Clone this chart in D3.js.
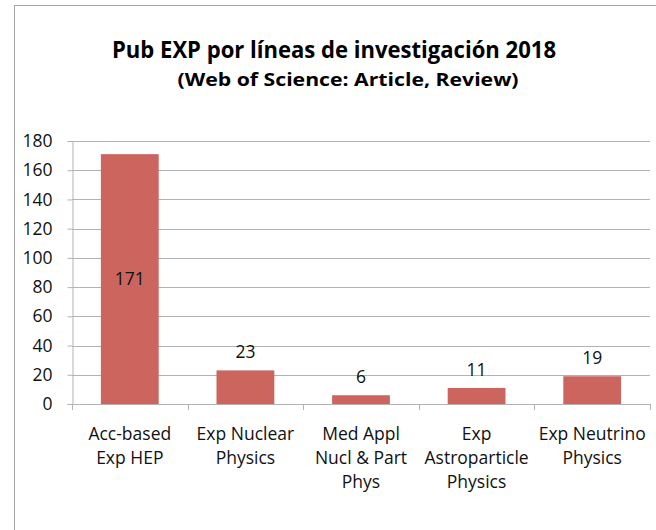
<!DOCTYPE html>
<html>
<head>
<meta charset="utf-8">
<script src="https://cdn.jsdelivr.net/npm/d3@7/dist/d3.min.js"></script>
<style>
  body { margin: 0; background: #fff; }
  svg { display: block; font-family: "Open Sans", "Liberation Sans", sans-serif; }
</style>
</head>
<body>
<svg id="chart" width="656" height="530"></svg>
<script>
// Chart data
var categories = [
  ['Acc-based', 'Exp HEP'],
  ['Exp Nuclear', 'Physics'],
  ['Med Appl', 'Nucl & Part', 'Phys'],
  ['Exp', 'Astroparticle', 'Physics'],
  ['Exp Neutrino', 'Physics']
];
var values = [171, 23, 6, 11, 19];
var yTicks = [0, 20, 40, 60, 80, 100, 120, 140, 160, 180];
var title = 'Pub EXP por líneas de investigación 2018';
var subtitle = '(Web of Science: Article, Review)';

var svg = d3.select('#chart');
var plot = { left: 72, right: 650, top: 141, bottom: 404 };
var barColor = '#cd655f';
var gridColor = '#b3b3b3';
var labelSize = 17.5;

// outer frame (only top and left edges are in view)
svg.append('rect')
  .attr('x', 14.5).attr('y', 5.5)
  .attr('width', 700).attr('height', 600)
  .attr('fill', 'none').attr('stroke', '#a6a6a6');

svg.append('text')
  .attr('x', 334).attr('y', 58)
  .attr('text-anchor', 'middle')
  .attr('font-size', 22.5).attr('font-weight', 'bold')
  .attr('textLength', 444).attr('lengthAdjust', 'spacingAndGlyphs')
  .text(title);

svg.append('text')
  .attr('x', 348).attr('y', 86)
  .attr('text-anchor', 'middle')
  .attr('font-size', 18.5).attr('font-weight', 'bold')
  .attr('textLength', 341).attr('lengthAdjust', 'spacingAndGlyphs')
  .text(subtitle);

var x = d3.scaleBand()
  .domain(d3.range(values.length))
  .range([plot.left, plot.right])
  .paddingInner(0.5)
  .paddingOuter(0.25);

var y = d3.scaleLinear()
  .domain([0, 180])
  .range([plot.bottom, plot.top]);

// gridlines
svg.append('g')
  .selectAll('line')
  .data(yTicks.filter(function (d) { return d > 0; }))
  .join('line')
  .attr('x1', plot.left).attr('x2', plot.right)
  .attr('y1', function (d) { return Math.round(y(d)) + 0.5; })
  .attr('y2', function (d) { return Math.round(y(d)) + 0.5; })
  .attr('stroke', gridColor);

// y axis
var yAxis = svg.append('g')
  .attr('transform', 'translate(' + (plot.left + 0.5) + ',0)')
  .call(d3.axisLeft(y).tickValues(yTicks).tickSize(5).tickPadding(15));
yAxis.select('.domain').attr('stroke', gridColor);
yAxis.selectAll('.tick line').attr('stroke', gridColor);
yAxis.selectAll('.tick text')
  .attr('font-size', labelSize).attr('fill', '#111')
  .attr('font-family', '"Open Sans", sans-serif');

// bars
svg.append('g')
  .selectAll('rect')
  .data(values)
  .join('rect')
  .attr('x', function (d, i) { return x(i); })
  .attr('width', x.bandwidth())
  .attr('y', function (d) { return y(d); })
  .attr('height', function (d) { return y(0) - y(d); })
  .attr('fill', barColor);

// x axis with ticks at band boundaries
var step = x.step();
var bounds = d3.range(values.length + 1).map(function (i) { return plot.left + i * step; });
svg.append('line')
  .attr('x1', plot.left).attr('x2', plot.right)
  .attr('y1', plot.bottom + 0.5).attr('y2', plot.bottom + 0.5)
  .attr('stroke', gridColor);
svg.append('g')
  .selectAll('line')
  .data(bounds)
  .join('line')
  .attr('x1', function (d) { return Math.round(d) + 0.5; })
  .attr('x2', function (d) { return Math.round(d) + 0.5; })
  .attr('y1', plot.bottom).attr('y2', plot.bottom + 6)
  .attr('stroke', gridColor);

// value labels
svg.append('g')
  .selectAll('text')
  .data(values)
  .join('text')
  .attr('x', function (d, i) { return x(i) + x.bandwidth() / 2; })
  .attr('y', function (d) {
    return d > 100 ? (y(d) + y(0)) / 2 + 6 : y(d) - 12;
  })
  .attr('text-anchor', 'middle')
  .attr('font-size', labelSize).attr('fill', '#111')
  .text(function (d) { return d; });

// category labels
var cat = svg.append('g')
  .selectAll('text')
  .data(categories)
  .join('text')
  .attr('text-anchor', 'middle')
  .attr('font-size', labelSize).attr('fill', '#111');
cat.each(function (lines, i) {
  d3.select(this).selectAll('tspan')
    .data(lines)
    .join('tspan')
    .attr('x', x(i) + x.bandwidth() / 2)
    .attr('y', function (d, j) { return 440 + j * 24; })
    .text(function (d) { return d; });
});
</script>
</body>
</html>
